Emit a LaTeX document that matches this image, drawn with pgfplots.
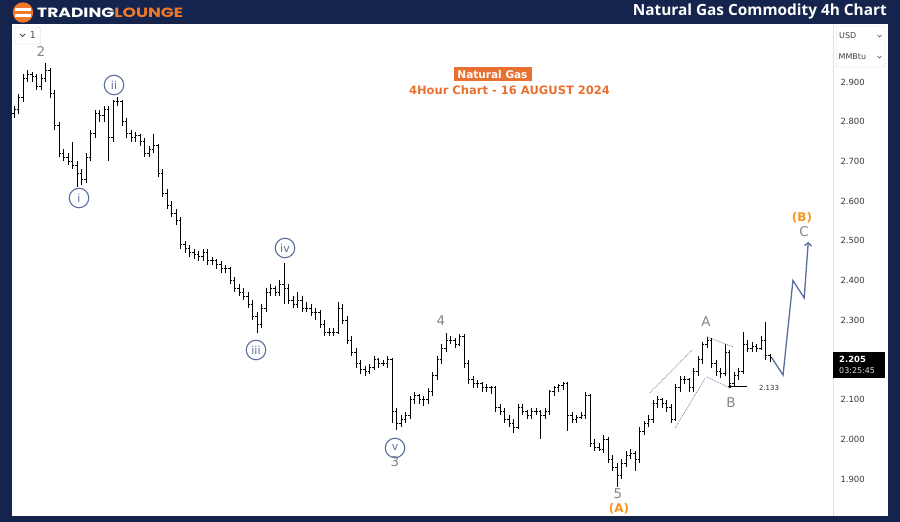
\documentclass[border=0pt]{standalone}
\usepackage{pgfplots}
\pgfplotsset{compat=1.18}
\usepackage{pgfplotstable}
\usepackage{fontspec}
\setmainfont{DejaVu Sans}
\newfontfamily\hdfont{Open Sans}
\newfontfamily\logofont{Poppins}
\usetikzlibrary{arrows.meta}
\definecolor{navy}{RGB}{21,36,76}
\definecolor{tlorange}{RGB}{240,120,40}
\definecolor{suborange}{RGB}{232,112,48}
\definecolor{waveorange}{RGB}{247,148,29}
\definecolor{waveblue}{RGB}{92,110,160}
\definecolor{wavegray}{RGB}{135,135,135}
\definecolor{chan}{RGB}{120,130,165}

\pgfplotstableread{
x o h l c
0 2.82 2.84 2.81 2.83
1 2.83 2.87 2.82 2.86
2 2.86 2.92 2.85 2.91
3 2.91 2.93 2.90 2.92
4 2.92 2.925 2.90 2.915
5 2.915 2.92 2.88 2.89
6 2.89 2.92 2.88 2.91
7 2.91 2.948 2.90 2.93
8 2.93 2.935 2.86 2.87
9 2.87 2.88 2.78 2.79
10 2.79 2.80 2.71 2.72
11 2.72 2.73 2.70 2.71
12 2.71 2.72 2.69 2.70
13 2.70 2.75 2.68 2.69
14 2.69 2.70 2.635 2.67
15 2.67 2.68 2.64 2.655
16 2.655 2.72 2.645 2.71
17 2.71 2.78 2.70 2.77
18 2.77 2.83 2.76 2.82
19 2.82 2.83 2.80 2.815
20 2.815 2.84 2.80 2.83
21 2.83 2.84 2.70 2.76
22 2.76 2.855 2.75 2.85
23 2.85 2.862 2.84 2.85
24 2.85 2.855 2.79 2.80
25 2.80 2.81 2.76 2.77
26 2.77 2.78 2.75 2.76
27 2.76 2.775 2.75 2.765
28 2.765 2.77 2.74 2.75
29 2.75 2.76 2.71 2.72
30 2.72 2.74 2.71 2.73
31 2.73 2.77 2.72 2.74
32 2.74 2.745 2.66 2.67
33 2.67 2.68 2.61 2.62
34 2.62 2.63 2.58 2.59
35 2.59 2.60 2.56 2.57
36 2.57 2.58 2.54 2.55
37 2.55 2.56 2.48 2.49
38 2.49 2.50 2.47 2.48
39 2.48 2.49 2.46 2.47
40 2.47 2.48 2.455 2.465
41 2.465 2.475 2.45 2.46
42 2.46 2.48 2.45 2.47
43 2.47 2.48 2.44 2.45
44 2.45 2.46 2.44 2.45
45 2.45 2.455 2.43 2.44
46 2.44 2.45 2.42 2.43
47 2.43 2.44 2.42 2.43
48 2.43 2.435 2.39 2.40
49 2.40 2.41 2.37 2.38
50 2.38 2.39 2.36 2.37
51 2.37 2.38 2.35 2.36
52 2.36 2.37 2.33 2.34
53 2.34 2.35 2.30 2.31
54 2.31 2.32 2.268 2.29
55 2.29 2.34 2.28 2.33
56 2.33 2.38 2.32 2.37
57 2.37 2.39 2.36 2.38
58 2.38 2.385 2.36 2.37
59 2.37 2.40 2.36 2.39
60 2.39 2.445 2.34 2.38
61 2.38 2.39 2.34 2.35
62 2.35 2.36 2.33 2.34
63 2.34 2.37 2.33 2.35
64 2.35 2.36 2.32 2.33
65 2.33 2.345 2.32 2.33
66 2.33 2.34 2.31 2.32
67 2.32 2.33 2.30 2.32
68 2.32 2.325 2.28 2.29
69 2.29 2.30 2.26 2.27
70 2.27 2.28 2.26 2.27
71 2.27 2.28 2.26 2.27
72 2.27 2.345 2.265 2.33
73 2.33 2.34 2.29 2.30
74 2.30 2.31 2.24 2.25
75 2.25 2.26 2.21 2.22
76 2.22 2.23 2.18 2.19
77 2.19 2.20 2.165 2.175
78 2.175 2.185 2.16 2.17
79 2.17 2.19 2.165 2.18
80 2.18 2.21 2.175 2.20
81 2.20 2.205 2.18 2.19
82 2.19 2.20 2.185 2.19
83 2.19 2.21 2.18 2.20
84 2.20 2.205 2.04 2.07
85 2.07 2.08 2.023 2.04
86 2.04 2.06 2.03 2.05
87 2.05 2.07 2.04 2.06
88 2.06 2.11 2.05 2.10
89 2.10 2.12 2.09 2.11
90 2.11 2.115 2.09 2.10
91 2.10 2.11 2.085 2.10
92 2.10 2.13 2.09 2.12
93 2.12 2.17 2.11 2.16
94 2.16 2.21 2.15 2.20
95 2.20 2.24 2.19 2.23
96 2.23 2.268 2.22 2.25
97 2.25 2.26 2.24 2.25
98 2.25 2.255 2.23 2.24
99 2.24 2.265 2.235 2.26
100 2.26 2.265 2.18 2.19
101 2.19 2.20 2.14 2.15
102 2.15 2.16 2.13 2.14
103 2.14 2.15 2.13 2.14
104 2.14 2.145 2.12 2.13
105 2.13 2.14 2.12 2.13
106 2.13 2.135 2.115 2.13
107 2.13 2.135 2.07 2.08
108 2.08 2.09 2.06 2.07
109 2.07 2.08 2.04 2.05
110 2.05 2.06 2.03 2.04
111 2.04 2.05 2.015 2.03
112 2.03 2.09 2.025 2.08
113 2.08 2.09 2.06 2.07
114 2.07 2.075 2.05 2.06
115 2.06 2.08 2.05 2.07
116 2.07 2.08 2.06 2.07
117 2.07 2.075 2.00 2.06
118 2.06 2.08 2.05 2.07
119 2.07 2.125 2.06 2.12
120 2.12 2.135 2.11 2.13
121 2.13 2.14 2.12 2.135
122 2.135 2.145 2.125 2.14
123 2.14 2.145 2.02 2.06
124 2.06 2.07 2.04 2.05
125 2.05 2.06 2.04 2.055
126 2.055 2.07 2.05 2.06
127 2.06 2.12 2.05 2.11
128 2.11 2.115 1.98 1.99
129 1.99 2.00 1.97 1.98
130 1.98 1.99 1.97 1.975
131 1.975 2.01 1.965 2.00
132 2.00 2.005 1.94 1.95
133 1.95 1.96 1.92 1.93
134 1.93 1.94 1.88 1.91
135 1.91 1.95 1.90 1.94
136 1.94 1.97 1.93 1.96
137 1.96 1.975 1.95 1.965
138 1.965 1.97 1.92 1.95
139 1.95 2.03 1.94 2.02
140 2.02 2.045 2.01 2.04
141 2.04 2.06 2.03 2.05
142 2.05 2.10 2.04 2.09
143 2.09 2.11 2.08 2.10
144 2.10 2.105 2.08 2.09
145 2.09 2.10 2.07 2.08
146 2.08 2.09 2.04 2.05
147 2.05 2.14 2.045 2.13
148 2.13 2.16 2.12 2.15
149 2.15 2.16 2.14 2.15
150 2.15 2.155 2.12 2.13
151 2.13 2.18 2.12 2.17
152 2.17 2.21 2.16 2.20
153 2.20 2.245 2.19 2.24
154 2.24 2.258 2.23 2.25
155 2.25 2.255 2.18 2.19
156 2.19 2.20 2.16 2.17
157 2.17 2.18 2.155 2.165
158 2.165 2.24 2.16 2.22
159 2.22 2.225 2.133 2.14
160 2.14 2.17 2.135 2.16
161 2.16 2.18 2.15 2.17
162 2.17 2.27 2.165 2.24
163 2.24 2.25 2.22 2.23
164 2.23 2.245 2.22 2.235
165 2.235 2.24 2.22 2.23
166 2.23 2.26 2.225 2.25
167 2.25 2.295 2.20 2.21
168 2.21 2.215 2.195 2.205
}\bars

\begin{document}
\begin{tikzpicture}
\fill[navy] (0,0) rectangle (900bp,522bp);
\fill[white] (12bp,6bp) rectangle (888bp,498bp);
\draw[black!12, line width=0.8bp] (833bp,6bp) -- (833bp,498bp);
\begin{axis}[
  at={(12bp,6bp)}, anchor=south west,
  scale only axis, width=820bp, height=492bp,
  xmin=-0.444, xmax=181.78, ymin=1.8068, ymax=3.0461,
  axis line style={draw=none},
  xtick=\empty,
  ytick={1.9,2.0,2.1,2.2,2.3,2.4,2.5,2.6,2.7,2.8,2.9},
  yticklabel pos=right,
  major tick length=0pt,
  yticklabel style={font=\fontsize{8.5}{10}\selectfont, text=black!78, anchor=west, xshift=5bp,
    /pgf/number format/fixed, /pgf/number format/fixed zerofill,
    /pgf/number format/precision=3, /pgf/number format/assume math mode=true},
  clip=true,
]
% high-low ranges
\addplot[draw=none, mark=none, forget plot,
  error bars/.cd, y dir=both, y explicit,
  error mark=none, error bar style={draw=black, line width=0.9bp}]
  table[x=x, y=c, y error plus expr=\thisrow{h}-\thisrow{c}, y error minus expr=\thisrow{c}-\thisrow{l}] {\bars};
% open ticks
\addplot[only marks, mark=-, mark size=1bp, mark options={draw=black, line width=0.9bp}]
  table[x expr=\thisrow{x}-0.22, y=o] {\bars};
% close ticks
\addplot[only marks, mark=-, mark size=1bp, mark options={draw=black, line width=0.9bp}]
  table[x expr=\thisrow{x}+0.22, y=c] {\bars};
% channels
\addplot[chan, densely dotted, line width=0.8bp] coordinates {(141.3,2.117) (150.7,2.225)};
\addplot[chan, densely dotted, line width=0.8bp] coordinates {(146.9,2.028) (153.6,2.154)};
\addplot[chan, densely dotted, line width=0.8bp] coordinates {(154.0,2.258) (159.8,2.233)};
\addplot[chan, densely dotted, line width=0.8bp] coordinates {(154.0,2.157) (159.1,2.129)};
% 2.133 marker
\addplot[black, line width=0.6bp] coordinates {(159.1,2.133) (162.8,2.133)};
\addplot[only marks, mark=*, mark size=1.3bp, black] coordinates {(159.1,2.133)};
% projection
\addplot[waveblue, line width=1.3bp, -{Straight Barb[length=3bp,width=7bp]}] coordinates {(168.4,2.205) (170.9,2.162) (173.1,2.400) (175.6,2.356) (176.5,2.497)};
\end{axis}

\begin{scope}[x=1bp,y=-1bp,yshift=522bp]
% logo
\fill[tlorange] (23,12.5) circle (10.2);
\fill[white] (15,8.3) rectangle (31,10.6);
\fill[white] (15,14.3) rectangle (31,16.6);
\node[anchor=west, inner sep=0] at (37,12.5) {\resizebox{146bp}{9.5bp}{\logofont\bfseries\textcolor{white}{TRADING}\textcolor{tlorange}{LOUNGE}}};
% header title
\node[anchor=east, inner sep=0, text=white] at (887,12) {\resizebox{254bp}{!}{\hdfont\bfseries Natural Gas Commodity 4h Chart}};
% top-left box
\draw[black!15, fill=white, rounded corners=1.5] (15,27) rectangle (40.5,44);
\draw[black!70, line width=0.8] (20,34) -- (22.5,36.5) -- (25,34);
\node[text=black!70, inner sep=0, font=\fontsize{9.5}{10}\selectfont] at (33,35.5) {1};
% currency box
\draw[black!15, fill=white, rounded corners=1.5] (836.5,26) rectangle (885,67);
\node[anchor=west, inner sep=0, text=black!75, font=\fontsize{8}{9}\selectfont] at (839,36) {USD};
\node[anchor=west, inner sep=0, text=black!75, font=\fontsize{8}{9}\selectfont] at (838.5,57) {MMBtu};
\draw[black!70, line width=0.6] (877.5,35) -- (879.5,37) -- (881.5,35);
\draw[black!70, line width=0.6] (877.5,56) -- (879.5,58) -- (881.5,56);
% subtitle
\fill[suborange] (453.5,67.5) rectangle (531.5,81);
\node[inner sep=0, text=white] at (492.5,74.3) {\resizebox{70bp}{!}{\bfseries Natural Gas}};
\node[inner sep=0, text=suborange] at (509.5,90) {\resizebox{201bp}{!}{\bfseries 4Hour Chart - 16 AUGUST 2024}};
% price box
\fill[black] (832.5,352) rectangle (885,378);
\node[anchor=west, inner sep=0, text=white, font=\fontsize{8.5}{9}\selectfont\bfseries] at (839,359.5) {2.205};
\node[anchor=west, inner sep=0, text=white!85!black, font=\fontsize{8}{9}\selectfont] at (839,371) {03:25:45};
% wave labels
\tikzset{wg/.style={text=wavegray, inner sep=0, font=\fontsize{13.5}{14}\selectfont},
         wc/.style={draw=waveblue, line width=1.1bp, circle, minimum size=19.5bp, inner sep=0, text=waveblue, font=\fontsize{11}{12}\selectfont},
         wo/.style={text=waveorange, inner sep=0, font=\fontsize{12}{13}\selectfont\bfseries}}
\node[wg] at (41,52) {2};
\node[wg] at (395,462) {3};
\node[wg] at (441,321) {4};
\node[wg] at (618,494) {5};
\node[wg] at (706,322) {A};
\node[wg] at (731,403) {B};
\node[wg] at (804,232) {C};
\node[wo] at (619,508.5) {(A)};
\node[wo] at (802,218) {(B)};
\node[wc] at (79,198) {i};
\node[wc] at (114,85) {ii};
\node[wc] at (256,350) {iii};
\node[wc] at (285,248) {iv};
\node[wc] at (395,448) {v};
\node[inner sep=0, text=black!80, font=\fontsize{7}{8}\selectfont] at (769,388) {2.133};
\end{scope}
\end{tikzpicture}
\end{document}
